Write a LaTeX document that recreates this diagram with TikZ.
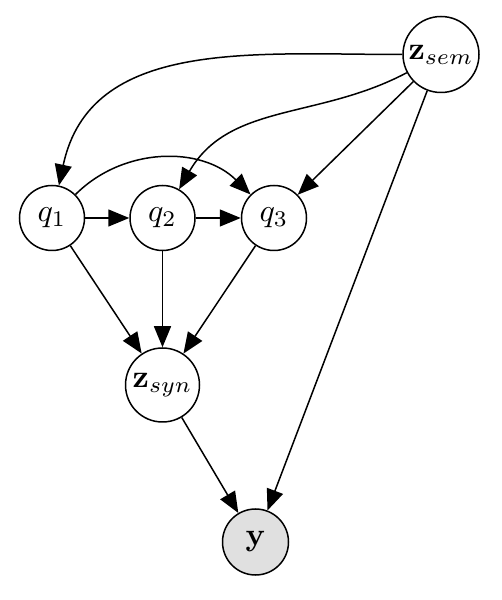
\documentclass[tikz,border=0pt]{standalone}
\usepackage{graphicx}
\usetikzlibrary{arrows.meta}
\newcommand{\bigtxt}[1]{\scalebox{3.2}{#1}}
\begin{document}
\begin{tikzpicture}[x=1pt,y=1pt,
  var/.style={circle,draw,line width=1.5pt,inner sep=0pt},
  obs/.style={var,fill={rgb,255:red,224;green,224;blue,224}},
  edge/.style={line width=1.5pt,-{Triangle[length=21pt,width=17pt]}}]
\useasboundingbox (0,0) rectangle (502,600);
\node[var,minimum size=76pt] (zsem) at (441,545.5) {\bigtxt{$\mathbf{z}_{sem}$}};
\node[var,minimum size=65pt] (q1) at (52,382) {\bigtxt{$q_1$}};
\node[var,minimum size=65pt] (q2) at (162.5,382) {\bigtxt{$q_2$}};
\node[var,minimum size=65pt] (q3) at (274,382) {\bigtxt{$q_3$}};
\node[var,minimum size=74pt] (zsyn) at (162.5,215) {\bigtxt{$\mathbf{z}_{syn}$}};
\node[obs,minimum size=66pt] (y) at (255.5,58) {\bigtxt{$\mathbf{y}$}};
\draw[edge] (zsem) to[out=180,in=78,looseness=1.05] (q1);
\draw[edge] (zsem) to[out=208,in=60] (q2);
\draw[edge] (zsem) -- (q3);
\draw[edge] (zsem) -- (y);
\draw[edge] (q1) to[out=45,in=135] (q3);
\draw[edge] (q1) -- (q2);
\draw[edge] (q2) -- (q3);
\draw[edge] (q1) -- (zsyn);
\draw[edge] (q2) -- (zsyn);
\draw[edge] (q3) -- (zsyn);
\draw[edge] (zsyn) -- (y);
\end{tikzpicture}
\end{document}
